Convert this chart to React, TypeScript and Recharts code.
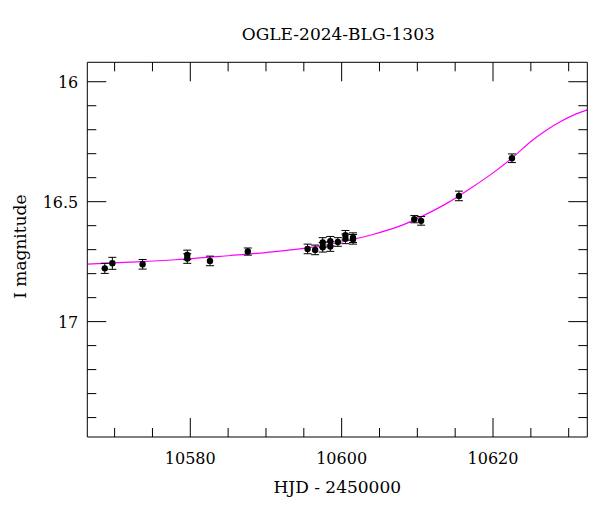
import React from "react";
import {
  ComposedChart,
  Scatter,
  Line,
  XAxis,
  YAxis,
  ErrorBar,
  Label,
} from "recharts";

// Observed photometry (HJD - 2450000, I magnitude, error)
const hjd = [
  10568.7, 10569.7, 10573.7, 10579.6, 10579.6, 10582.6, 10587.6, 10595.5,
  10596.5, 10597.5, 10597.5, 10598.5, 10598.5, 10599.5, 10600.5, 10600.5,
  10601.5, 10601.5, 10609.6, 10610.5, 10615.5, 10622.5,
];
const mag = [
  16.778, 16.757, 16.761, 16.722, 16.737, 16.747, 16.708, 16.697, 16.701,
  16.69, 16.67, 16.687, 16.665, 16.668, 16.64, 16.655, 16.657, 16.65, 16.573,
  16.58, 16.476, 16.319,
];
const magErr = [
  0.021, 0.025, 0.02, 0.02, 0.02, 0.02, 0.015, 0.02, 0.02, 0.02, 0.02, 0.02,
  0.02, 0.018, 0.02, 0.02, 0.02, 0.02, 0.015, 0.018, 0.02, 0.018,
];

// Model curve
const modelHjd = [
  10566.4, 10572, 10578, 10584, 10590, 10595, 10600, 10604, 10608, 10611,
  10614, 10617, 10620, 10623, 10625, 10627, 10629, 10631, 10632.46,
];
const modelMag = [
  16.76, 16.752, 16.742, 16.728, 16.712, 16.695, 16.668, 16.638, 16.598,
  16.555, 16.505, 16.445, 16.38, 16.305, 16.249, 16.203, 16.165, 16.134,
  16.117,
];

const xTicks = [
  10570, 10575, 10580, 10585, 10590, 10595, 10600, 10605, 10610, 10615, 10620,
  10625, 10630,
];
const xMajor = [10580, 10600, 10620];
const yTicks = [
  16, 16.1, 16.2, 16.3, 16.4, 16.5, 16.6, 16.7, 16.8, 16.9, 17, 17.1, 17.2,
  17.3, 17.4,
];
const yMajor = [16, 16.5, 17];

const title = "OGLE-2024-BLG-1303";
const xTitle = "HJD - 2450000";
const yTitle = "I magnitude";

const points = hjd.map((x, i) => ({ x, y: mag[i], err: magErr[i] }));
const model = modelHjd.map((x, i) => ({ x, y: modelMag[i] }));

const FONT = "'DejaVu Serif', serif";
const MAJ = 19;
const MIN = 9;

const isMajor = (v: number, list: number[]) =>
  list.some((m) => Math.abs(m - v) < 1e-6);

const BottomTick = (p: any) => {
  const { x, y, payload } = p;
  const major = isMajor(payload.value, xMajor);
  return (
    <g>
      <line x1={x} x2={x} y1={y} y2={y - (major ? MAJ : MIN)} stroke="#000" strokeWidth={1} />
      {major && (
        <text x={x} y={y + 27} textAnchor="middle" fontFamily={FONT} fontSize={16} fill="#000">
          {payload.value}
        </text>
      )}
    </g>
  );
};

const TopTick = (p: any) => {
  const { x, y, payload } = p;
  const major = isMajor(payload.value, xMajor);
  return (
    <line x1={x} x2={x} y1={y} y2={y + (major ? MAJ : MIN)} stroke="#000" strokeWidth={1} />
  );
};

const LeftTick = (p: any) => {
  const { x, y, payload } = p;
  const major = isMajor(payload.value, yMajor);
  return (
    <g>
      <line x1={x} x2={x + (major ? MAJ : MIN)} y1={y} y2={y} stroke="#000" strokeWidth={1} />
      {major && (
        <text x={x - 9} y={y + 6} textAnchor="end" fontFamily={FONT} fontSize={16} fill="#000">
          {String(payload.value)}
        </text>
      )}
    </g>
  );
};

const RightTick = (p: any) => {
  const { x, y, payload } = p;
  const major = isMajor(payload.value, yMajor);
  return (
    <line x1={x} x2={x - (major ? MAJ : MIN)} y1={y} y2={y} stroke="#000" strokeWidth={1} />
  );
};

const Dot = (p: any) => <circle cx={p.cx} cy={p.cy} r={3.2} fill="#000" />;

const xDomain = [10566.39, 10632.46];
const yDomain = [15.919, 17.481];

export default function App() {
  return (
    <div style={{ position: "absolute", left: 0, top: 0, width: 600, height: 512, background: "#fff" }}>
      <ComposedChart
        width={600}
        height={512}
        margin={{ top: 0, right: 0, bottom: 0, left: 0 }}
      >
        <XAxis
          xAxisId="b"
          dataKey="x"
          type="number"
          orientation="bottom"
          domain={xDomain}
          allowDataOverflow
          ticks={xTicks}
          interval={0}
          height={75}
          tickSize={0}
          tickMargin={0}
          tick={<BottomTick />}
          axisLine={{ stroke: "#000", strokeWidth: 1 }}
          tickLine={false}
        >
          <Label
            content={(lp: any) => {
              const vb = lp.viewBox;
              return (
                <text x={vb.x + vb.width / 2} y={vb.y + 56} textAnchor="middle" fontFamily={FONT} fontSize={17} fill="#000">
                  {xTitle}
                </text>
              );
            }}
          />
        </XAxis>
        <XAxis
          xAxisId="t"
          dataKey="x"
          type="number"
          orientation="top"
          domain={xDomain}
          allowDataOverflow
          ticks={xTicks}
          interval={0}
          height={62.3}
          tickSize={0}
          tickMargin={0}
          tick={<TopTick />}
          axisLine={{ stroke: "#000", strokeWidth: 1 }}
          tickLine={false}
        >
          <Label
            content={(lp: any) => {
              const vb = lp.viewBox;
              return (
                <text x={vb.x + vb.width / 2 + 1} y={40} textAnchor="middle" fontFamily={FONT} fontSize={17} fill="#000">
                  {title}
                </text>
              );
            }}
          />
        </XAxis>
        <YAxis
          yAxisId="l"
          type="number"
          orientation="left"
          reversed
          domain={yDomain}
          allowDataOverflow
          ticks={yTicks}
          interval={0}
          width={87.3}
          tickSize={0}
          tickMargin={0}
          tick={<LeftTick />}
          axisLine={{ stroke: "#000", strokeWidth: 1 }}
          tickLine={false}
        >
          <Label
            content={(lp: any) => {
              const vb = lp.viewBox;
              const cy = vb.y + vb.height / 2 - 3;
              return (
                <text x={26} y={cy} textAnchor="middle" fontFamily={FONT} fontSize={17} fill="#000" transform={`rotate(-90 26 ${cy})`}>
                  {yTitle}
                </text>
              );
            }}
          />
        </YAxis>
        <YAxis
          yAxisId="r"
          type="number"
          orientation="right"
          reversed
          domain={yDomain}
          allowDataOverflow
          ticks={yTicks}
          interval={0}
          width={12.7}
          tickSize={0}
          tickMargin={0}
          tick={<RightTick />}
          axisLine={{ stroke: "#000", strokeWidth: 1 }}
          tickLine={false}
        />
        <Line
          xAxisId="b"
          yAxisId="l"
          data={model}
          dataKey="y"
          type="monotone"
          stroke="#ff00ff"
          strokeWidth={1.2}
          dot={false}
          activeDot={false}
          isAnimationActive={false}
        />
        <Scatter
          xAxisId="b"
          yAxisId="l"
          data={points}
          dataKey="y"
          shape={<Dot />}
          isAnimationActive={false}
        >
          <ErrorBar dataKey="err" direction="y" width={4} stroke="#000" strokeWidth={1} />
        </Scatter>
      </ComposedChart>
    </div>
  );
}
